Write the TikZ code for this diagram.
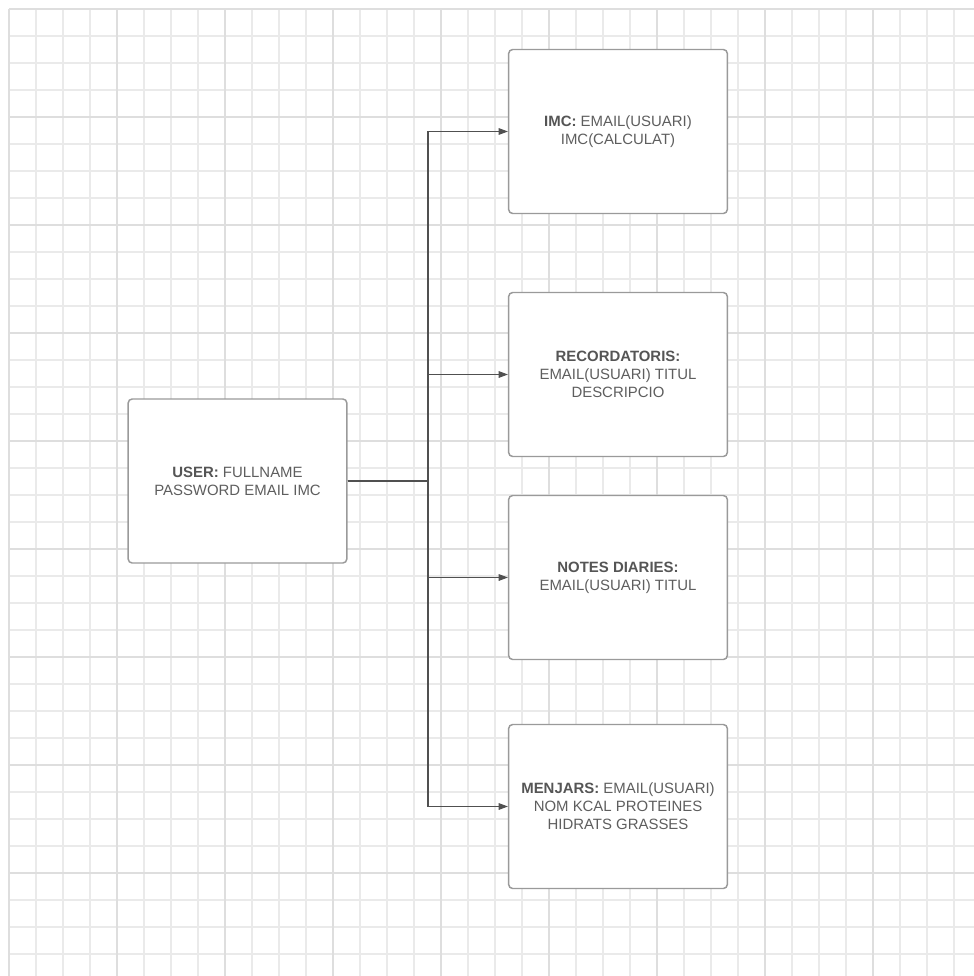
\documentclass[tikz,border=0pt]{standalone}
\usepackage{fontspec}
\setmainfont{Liberation Sans}
\usetikzlibrary{arrows.meta}
\definecolor{gridminor}{HTML}{EAEAEA}
\definecolor{gridmajor}{HTML}{DEDEDE}
\definecolor{boxline}{HTML}{9A9A9A}
\definecolor{txt}{HTML}{5E5E5E}
\definecolor{txtb}{HTML}{555555}
\definecolor{conn}{HTML}{505050}
\begin{document}
\begin{tikzpicture}[x=0.75pt,y=-0.75pt,
  entity/.style={draw=boxline, line width=1.1pt, rounded corners=3pt, fill=white,
    minimum width=164pt, minimum height=123pt, align=center, text=txt,
    font=\fontsize{11.2}{13.5}\selectfont, inner sep=0pt},
  link/.style={draw=conn, line width=0.8pt, -{Triangle[length=7pt,width=5pt]}},
  minorline/.style={draw=gridminor, line width=0.8pt},
  majorline/.style={draw=gridmajor, line width=1.1pt}]
\useasboundingbox (0,0) rectangle (974,976);
\fill[white] (0,0) rectangle (974,976);
% grid
\foreach \i in {0,...,35} {
  \pgfmathsetmacro{\p}{9+27*\i}
  \draw[minorline] (\p,9) -- (\p,976);
  \draw[minorline] (9,\p) -- (974,\p);
}
\foreach \i in {0,...,8} {
  \pgfmathsetmacro{\p}{9+108*\i}
  \draw[majorline] (\p,9) -- (\p,976);
  \draw[majorline] (9,\p) -- (974,\p);
}
% nodes
\node[entity] (user) at (237.5,481) {\textbf{\color{txtb}USER:} FULLNAME\\PASSWORD EMAIL IMC};
\node[entity] (imc) at (618,131.5) {\textbf{\color{txtb}IMC:} EMAIL(USUARI)\\IMC(CALCULAT)};
\node[entity] (rec) at (618,374.5) {\textbf{\color{txtb}RECORDATORIS:}\\EMAIL(USUARI) TITUL\\DESCRIPCIO};
\node[entity] (notes) at (618,577.5) {\textbf{\color{txtb}NOTES DIARIES:}\\EMAIL(USUARI) TITUL};
\node[entity] (menj) at (618,806.5) {\textbf{\color{txtb}MENJARS:} EMAIL(USUARI)\\NOM KCAL PROTEINES\\HIDRATS GRASSES};
% connectors
\coordinate (j) at (428,481);
\draw[link] (user.east) -- (j) |- (imc.west);
\draw[link] (user.east) -- (j) |- (rec.west);
\draw[link] (user.east) -- (j) |- (notes.west);
\draw[link] (user.east) -- (j) |- (menj.west);
\end{tikzpicture}
\end{document}
